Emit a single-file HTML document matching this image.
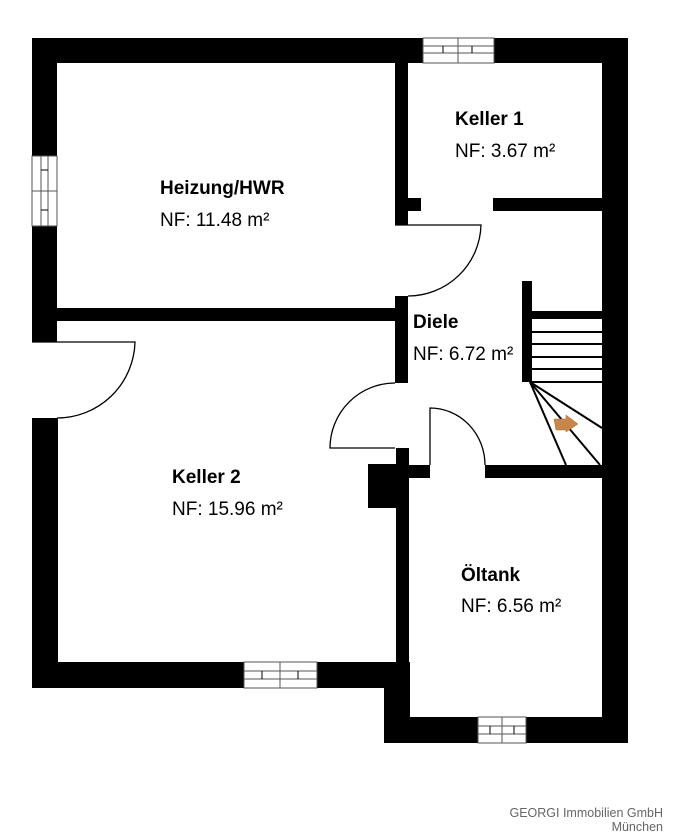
<!DOCTYPE html>
<html><head><meta charset="utf-8"><style>
html,body{margin:0;padding:0;background:#fff;width:675px;height:840px;overflow:hidden}
svg{display:block}
.b{font-family:"Liberation Sans",sans-serif;font-weight:bold;font-size:19px;fill:#000}
.n{font-family:"Liberation Sans",sans-serif;font-size:19px;fill:#000}
.f{font-family:"Liberation Sans",sans-serif;font-size:12.5px;fill:#666}
</style></head><body>
<svg width="675" height="840" viewBox="0 0 675 840" xmlns="http://www.w3.org/2000/svg">
<g fill="#000">
<rect x="32" y="38" width="595" height="25"/>
<rect x="32" y="38" width="25" height="304"/>
<rect x="32" y="418" width="26" height="270"/>
<rect x="602" y="38" width="26" height="705"/>
<rect x="32" y="662" width="378" height="26"/>
<rect x="384" y="662" width="26" height="81"/>
<rect x="384" y="717" width="244" height="26"/>
<rect x="395" y="63" width="13" height="162"/>
<rect x="408" y="198" width="13" height="13"/>
<rect x="493" y="198" width="109" height="13"/>
<rect x="395" y="296" width="13" height="87"/>
<rect x="57" y="308" width="338" height="13"/>
<rect x="396" y="448" width="13" height="270"/>
<rect x="368" y="464" width="41" height="44"/>
<rect x="396" y="465" width="34" height="13"/>
<rect x="485" y="465" width="117" height="13"/>
<rect x="522" y="281" width="10" height="101"/>
<rect x="532" y="311" width="70" height="8"/>
</g>
<g fill="#fff" stroke="#555" stroke-width="1">
<rect x="423" y="38" width="71" height="25"/>
<line x1="423" y1="46" x2="494" y2="46"/><line x1="423" y1="53" x2="494" y2="53"/>
<line x1="458" y1="38" x2="458" y2="63"/>
<rect x="32" y="156" width="25" height="70"/>
<line x1="41" y1="156" x2="41" y2="226"/><line x1="48" y1="156" x2="48" y2="226"/>
<line x1="32" y1="191" x2="57" y2="191"/>
<rect x="244" y="662" width="73" height="26"/>
<line x1="244" y1="671" x2="317" y2="671"/><line x1="244" y1="679" x2="317" y2="679"/>
<line x1="280" y1="662" x2="280" y2="688"/>
<rect x="478" y="717" width="48" height="26"/>
<line x1="478" y1="726" x2="526" y2="726"/><line x1="478" y1="734" x2="526" y2="734"/>
<line x1="502" y1="717" x2="502" y2="743"/>
</g>
<g stroke="#000" stroke-width="1">
<line x1="443" y1="46" x2="443" y2="53"/><line x1="472" y1="46" x2="472" y2="53"/>
<line x1="41" y1="170" x2="48" y2="170"/><line x1="41" y1="210" x2="48" y2="210"/>
<line x1="262" y1="671" x2="262" y2="679"/><line x1="298" y1="671" x2="298" y2="679"/>
<line x1="490" y1="726" x2="490" y2="734"/><line x1="514" y1="726" x2="514" y2="734"/>
</g>
<g stroke="#000" stroke-width="2" fill="none">
<line x1="532" y1="332" x2="602" y2="332"/>
<line x1="532" y1="344" x2="602" y2="344"/>
<line x1="532" y1="357" x2="602" y2="357"/>
<line x1="532" y1="369" x2="602" y2="369"/>
<line x1="532" y1="382" x2="602" y2="382"/>
<line x1="530" y1="382" x2="602" y2="428"/>
<line x1="530" y1="382" x2="600" y2="465"/>
<line x1="530" y1="382" x2="566" y2="465"/>
</g>
<polygon points="554,419 566,419 566,415 578,424 566,432 566,430 556,430" fill="#c8874a" stroke="#a86a30" stroke-width="0.5"/>
<g stroke="#000" stroke-width="1.3" fill="#fff">
<path d="M395,225 L481,225 A73,73 0 0 1 408,296"/>
<path d="M32,342 L135,342 A78,78 0 0 1 57,418"/>
<path d="M395,383 A65,65 0 0 0 330,448 L395,448"/>
<path d="M430,465 L430,408 A55,57 0 0 1 485,465"/>
</g>
<text class="b" x="160" y="194">Heizung/HWR</text>
<text class="n" x="160" y="226">NF: 11.48 m²</text>
<text class="b" x="455" y="125">Keller 1</text>
<text class="n" x="455" y="157">NF: 3.67 m²</text>
<text class="b" x="413" y="328">Diele</text>
<text class="n" x="413" y="360">NF: 6.72 m²</text>
<text class="b" x="172" y="483">Keller 2</text>
<text class="n" x="172" y="515">NF: 15.96 m²</text>
<text class="b" x="461" y="581">Öltank</text>
<text class="n" x="461" y="612">NF: 6.56 m²</text>
<text class="f" x="663" y="817" text-anchor="end">GEORGI Immobilien GmbH</text>
<text class="f" x="663" y="831" text-anchor="end">München</text>
</svg>
</body></html>
